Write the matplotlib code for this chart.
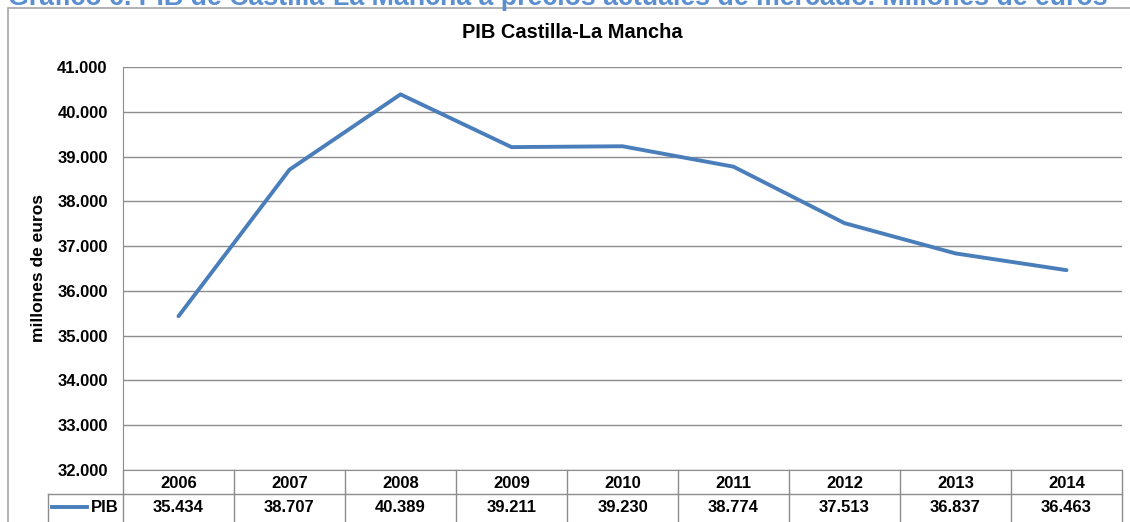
import matplotlib
matplotlib.use("Agg")
import matplotlib.pyplot as plt
from matplotlib.lines import Line2D
from matplotlib.patches import Rectangle
import matplotlib.ticker as mticker

plt.rcParams['font.family'] = ['Liberation Sans', 'DejaVu Sans']

years = ["2006", "2007", "2008", "2009", "2010", "2011", "2012", "2013", "2014"]
pib = [35434, 38707, 40389, 39211, 39230, 38774, 37513, 36837, 36463]
series_name = "PIB"
chart_title = "PIB Castilla-La Mancha"
y_label = "millones de euros"
doc_title = "Gráfico 6. PIB de Castilla-La Mancha a precios actuales de mercado. Millones de euros"

W, H = 1130, 522
fig = plt.figure(figsize=(W / 100, H / 100), dpi=100)

def fx(px):
    return px / W

def fy(py):
    return 1 - py / H

LINE_COLOR = "#4A7EBB"
GRID = "#8C8C8C"
FS = 12

# outer chart frame
fig.patches.append(Rectangle((fx(8), fy(530)), fx(1140), fy(8) - fy(530),
                             transform=fig.transFigure, fill=False,
                             edgecolor="#A6A6A6", linewidth=1.2))

# cut-off document title (only its lower part is visible, as in the source)
fig.text(fx(8), fy(5), doc_title, color="#5B8FD0", fontsize=19.3,
         fontweight="bold", ha="left", va="baseline")

left, right, top, bottom = 123, 1122, 67, 470
ax = fig.add_axes([fx(left), fy(bottom), fx(right - left), fy(top) - fy(bottom)])
x = list(range(len(years)))
ax.plot(x, pib, color=LINE_COLOR, linewidth=2.8, solid_capstyle="round",
        solid_joinstyle="round", zorder=3)
ax.set_xlim(-0.5, len(years) - 0.5)
ax.set_ylim(32000, 41000)
ax.yaxis.set_major_locator(mticker.MultipleLocator(1000))
ax.yaxis.set_major_formatter(mticker.FuncFormatter(
    lambda v, p: f"{int(v):,}".replace(",", ".")))
ax.grid(axis="y", color=GRID, linewidth=1.0)
ax.set_xticks([])
ax.tick_params(axis="y", length=0, pad=11, labelsize=FS)
for lab in ax.get_yticklabels():
    lab.set_fontweight("bold")
for s in ["top", "right"]:
    ax.spines[s].set_visible(False)
ax.spines["left"].set_color(GRID)
ax.spines["bottom"].set_color(GRID)
ax.set_ylabel(y_label, fontsize=12.5, fontweight="bold", labelpad=8)

fig.text(fx(572), fy(33), chart_title, fontsize=14.4, fontweight="bold",
         ha="center", va="center")

# data table
row1_top, row1_bot, row2_bot = 470, 494, 525
tax = fig.add_axes([fx(left), fy(row2_bot), fx(right - left), fy(row1_top) - fy(row2_bot)])
tax.set_xlim(-0.5, len(years) - 0.5)
tax.set_ylim(row2_bot, row1_top)
tax.axis("off")
lw = 1.0
tcol = GRID
tax.plot([-0.5, len(years) - 0.5], [row1_bot, row1_bot], color=tcol, lw=lw, clip_on=False)
for i in range(len(years) + 1):
    tax.plot([i - 0.5, i - 0.5], [row1_top, row2_bot], color=tcol, lw=lw, clip_on=False)
for i, (yr, v) in enumerate(zip(years, pib)):
    tax.text(i, (row1_top + row1_bot) / 2 + 1, yr, ha="center", va="center",
             fontsize=FS, fontweight="bold")
    tax.text(i, 507, f"{v:,}".replace(",", "."), ha="center", va="center",
             fontsize=FS, fontweight="bold")

# legend cell
fig.add_artist(Line2D([fx(48), fx(left)], [fy(row1_bot), fy(row1_bot)],
                      color=tcol, lw=lw, transform=fig.transFigure))
fig.add_artist(Line2D([fx(48), fx(48)], [fy(row1_bot), fy(row2_bot)],
                      color=tcol, lw=lw, transform=fig.transFigure))
fig.add_artist(Line2D([fx(52), fx(87)], [fy(507), fy(507)],
                      color=LINE_COLOR, lw=2.8, transform=fig.transFigure))
fig.text(fx(119), fy(507), series_name, ha="right", va="center",
         fontsize=FS, fontweight="bold")

fig.savefig("out.png", dpi=100)
